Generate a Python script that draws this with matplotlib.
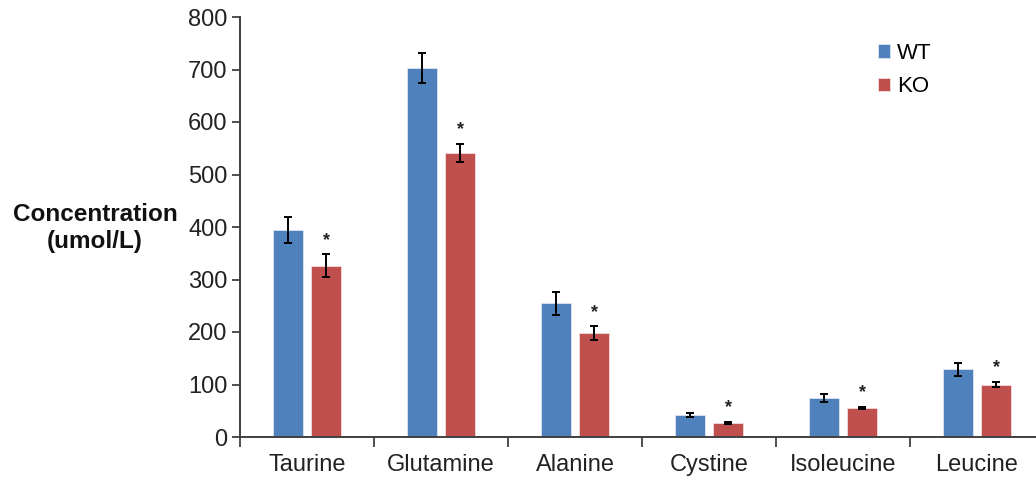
import matplotlib
matplotlib.use('Agg')
import matplotlib.pyplot as plt
import numpy as np

# --- DATA ---
amino_acids = ['Taurine', 'Glutamine', 'Alanine', 'Cystine', 'Isoleucine', 'Leucine']
wt_mean = [394, 703, 255, 42, 74, 129]
wt_err = [25, 28, 22, 3, 7, 12]
ko_mean = [326, 541, 198, 27, 56, 100]
ko_err = [22, 18, 13, 2, 2, 5]
significant = [True, True, True, True, True, True]
y_ticks = [0, 100, 200, 300, 400, 500, 600, 700, 800]

BLUE = '#4F81BD'
RED = '#C0504D'

plt.rcParams['font.family'] = ['Liberation Sans', 'DejaVu Sans']

fig = plt.figure(figsize=(10.36, 4.82), dpi=100)
ax = fig.add_axes([240 / 1036, 45 / 482, 804 / 1036, 420 / 482])

x = np.arange(len(amino_acids))
width = 0.225
offset = 0.142

err_kw = dict(ecolor='black', elinewidth=1.4, capsize=3, capthick=1.4)
ax.bar(x - offset, wt_mean, width, yerr=wt_err, color=BLUE, edgecolor='#dce6f2',
       linewidth=0.6, label='WT', error_kw=err_kw, zorder=2)
ax.bar(x + offset, ko_mean, width, yerr=ko_err, color=RED, edgecolor='#f2dcdb',
       linewidth=0.6, label='KO', error_kw=err_kw, zorder=2)

# significance stars above KO bars
for i, sig in enumerate(significant):
    if sig:
        ax.annotate('*', (x[i] + offset, ko_mean[i] + ko_err[i]),
                    xytext=(0, 4), textcoords='offset points',
                    ha='center', va='bottom', fontsize=13, fontweight='bold', color='#222222')

ax.set_xlim(-0.5, len(amino_acids) - 0.5)
ax.set_ylim(0, 800)
ax.set_yticks(y_ticks)
ax.tick_params(axis='y', labelsize=17, length=6, width=1.3, color='#404040',
               labelcolor='#222222', pad=3)

# category labels at centres, boundary ticks as minor ticks
ax.set_xticks(x)
ax.set_xticklabels(amino_acids)
ax.tick_params(axis='x', which='major', length=0, labelsize=17, labelcolor='#222222', pad=12)
ax.set_xticks(np.arange(-0.5, len(amino_acids), 1.0), minor=True)
ax.tick_params(axis='x', which='minor', length=7, width=1.3, color='#404040', direction='out')

for side in ['top', 'right']:
    ax.spines[side].set_visible(False)
for side in ['left', 'bottom']:
    ax.spines[side].set_linewidth(1.4)
    ax.spines[side].set_color('#404040')

fig.text(95 / 1036, 1 - 228 / 482, 'Concentration\n(umol/L)', ha='center', va='center',
         fontsize=17.5, fontweight='bold', color='#111111', linespacing=1.2)

leg = ax.legend(loc='upper left', bbox_to_anchor=((858 - 240) / 804, 1 - 6 / 420),
                frameon=False, fontsize=16, handlelength=0.55, handleheight=0.55,
                handletextpad=0.3, labelspacing=0.55)

fig.savefig('out.png', dpi=100)
